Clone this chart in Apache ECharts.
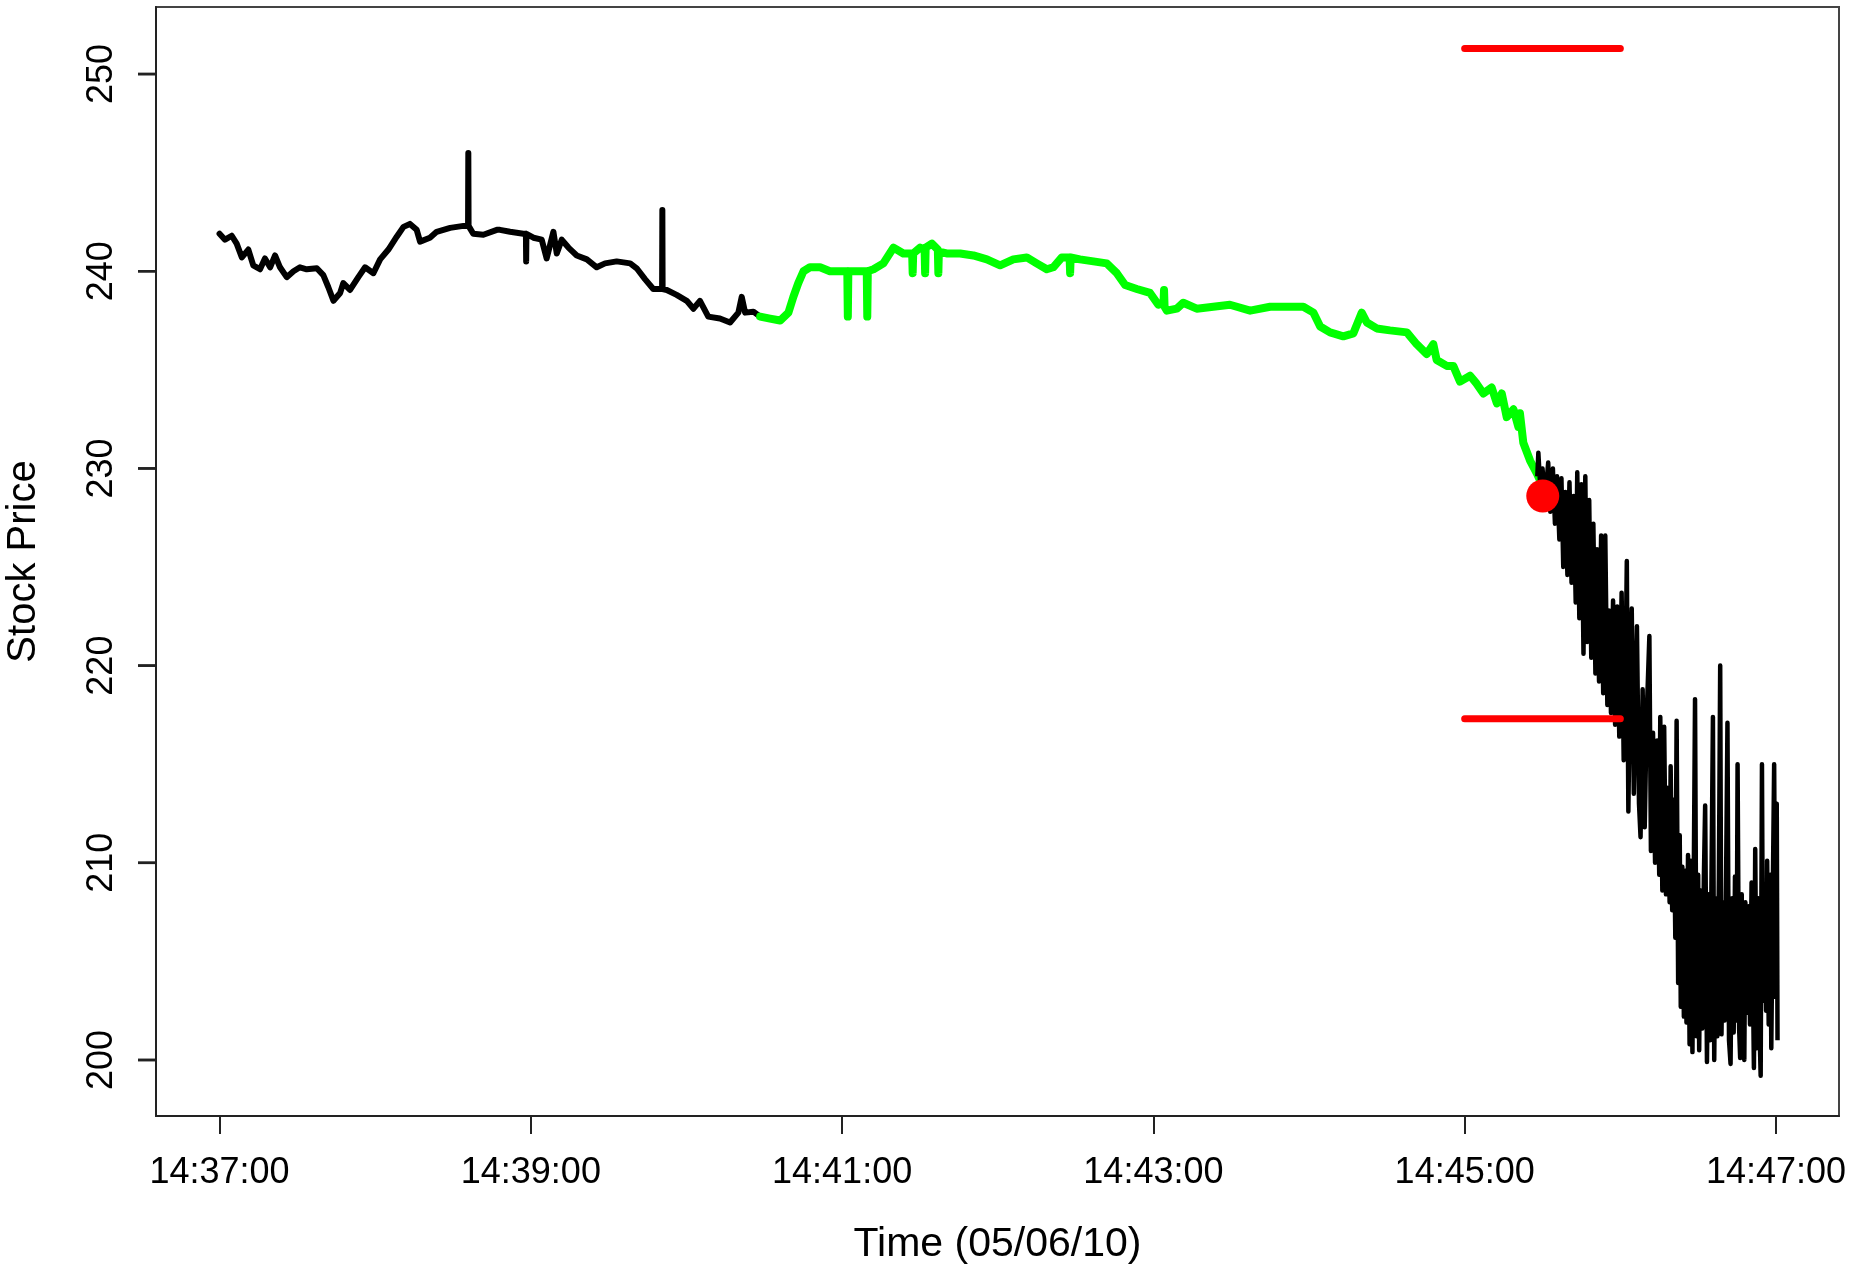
<!DOCTYPE html>
<html>
<head>
<meta charset="utf-8">
<script src="https://cdn.jsdelivr.net/npm/echarts@6/dist/echarts.min.js"></script>
<style>
html,body{margin:0;padding:0;background:#fff;}
#chart{width:1872px;height:1264px;}
</style>
</head>
<body>
<div id="chart"></div>
<script>
// times below are seconds after 14:37:00 on 05/06/10
const xTickValues = [0, 120, 240, 360, 480, 600];
const xTickLabels = ['14:37:00', '14:39:00', '14:41:00', '14:43:00', '14:45:00', '14:47:00'];
const yTickValues = [200, 210, 220, 230, 240, 250];

// first black stretch (before the highlighted window)
const blackHead = [
[0,241.9],[2.1,241.6],[4.7,241.8],[6.6,241.4],[8.6,240.7],[11.1,241.1],[13.0,240.3],[15.6,240.1],
[17.5,240.65],[19.5,240.2],[21.4,240.8],[23.3,240.2],[25.9,239.7],[28.5,240.0],[31.0,240.2],[33.6,240.1],
[37.5,240.15],[40.0,239.8],[41.9,239.2],[43.9,238.5],[46.5,238.9],[47.7,239.4],[50.3,239.05],[53.5,239.7],
[56.1,240.2],[59.3,239.9],[61.9,240.6],[65.1,241.1],[68.3,241.75],[70.9,242.25],[73.4,242.4],[76.0,242.1],
[77.3,241.5],[81.1,241.7],[83.7,242.0],[88.9,242.2],[94.0,242.3],[95.8,242.3],[95.9,246.0],[96.0,242.3],
[97.8,241.9],[101.7,241.85],[106.9,242.1],[108.1,242.1],[112.0,242.0],[117.1,241.9],[118.1,241.9],[118.2,240.5],
[118.3,241.9],[121.0,241.7],[124.2,241.6],[126.1,240.65],[128.7,242.0],[130.0,240.9],[131.9,241.6],[134.5,241.2],
[137.7,240.8],[141.6,240.6],[145.4,240.2],[148.6,240.4],[153.1,240.5],[158.3,240.4],[160.8,240.15],[164.0,239.6],
[167.2,239.1],[170.6,239.1],[170.7,243.1],[170.8,239.1],[172.4,239.05],[176.2,238.8],[180.1,238.5],[182.7,238.1],
[185.2,238.5],[188.4,237.7],[192.9,237.6],[196.8,237.4],[200.0,237.9],[201.3,238.7],[202.6,237.9],[205.8,237.95],
[208.4,237.7]
];

// highlighted (green) stretch
const greenMid = [
[208.4,237.7],[212.2,237.6],[216.1,237.5],[219.3,237.9],[221.2,238.7],[223.1,239.4],[225.1,240.0],[227.6,240.2],
[231.5,240.2],[235.3,240.0],[240.5,240.0],[242.0,240.0],[242.2,237.7],[242.4,240.0],[245.6,240.0],[249.5,240.0],
[249.7,237.7],[249.9,240.0],[252.1,240.1],[255.9,240.4],[259.8,241.2],[263.6,240.9],[267.0,240.9],[267.2,239.9],
[267.4,240.9],[270.1,241.2],[271.8,241.1],[272.0,239.9],[272.2,241.2],[274.6,241.4],[276.9,241.1],[277.1,239.9],
[277.3,241.0],[280.3,240.9],[285.5,240.9],[290.6,240.8],[295.8,240.6],[300.9,240.3],[306.0,240.6],[311.2,240.7],
[315.0,240.4],[318.9,240.1],[321.4,240.2],[324.7,240.7],[327.7,240.7],[327.9,239.9],[328.1,240.7],[331.7,240.6],
[336.9,240.5],[342.0,240.4],[345.9,239.9],[349.1,239.3],[353.6,239.1],[358.7,238.9],[361.9,238.3],[363.9,238.4],
[364.1,239.05],[364.3,238.2],[365.2,238.0],[369.0,238.1],[371.5,238.4],[376.7,238.1],[383.1,238.2],[389.5,238.3],
[397.3,238.0],[405.0,238.2],[411.4,238.2],[417.8,238.2],[421.7,237.9],[424.3,237.2],[428.1,236.9],[433.2,236.7],
[437.1,236.85],[440.3,237.9],[442.3,237.4],[446.1,237.1],[451.2,237.0],[457.7,236.9],[461.5,236.3],[465.4,235.8],
[467.9,236.3],[469.2,235.5],[473.1,235.2],[475.6,235.2],[478.2,234.4],[482.1,234.7],[484.6,234.3],[487.2,233.8],
[490.4,234.1],[492.4,233.3],[494.3,233.8],[496.2,232.6],[498.8,233.0],[500.7,232.1],[501.3,232.8],[502.6,231.3],
[505.2,230.4],[507.8,229.75],[509.7,229.2]
];

// final black stretch (the crash)
const blackTail = [
[508.0,229.6],[508.4,230.8],[509.2,228.9],[510.0,230.0],[511.0,228.4],[512.2,230.3],[513.0,227.8],[514.0,230.0],
[514.8,227.2],[515.6,229.6],[516.5,226.4],[517.3,229.5],[518.0,225.0],[518.8,228.8],[519.6,224.6],[520.4,229.3],
[521.2,224.2],[522.0,228.6],[522.8,223.2],[523.4,229.8],[524.2,222.4],[525.0,229.2],[525.8,220.6],[526.5,229.6],
[527.2,221.2],[528.0,228.4],[528.8,220.4],[529.6,227.2],[530.4,219.6],[531.0,225.9],[531.8,219.2],[532.6,226.6],
[533.4,218.6],[534.2,226.6],[535.0,218.0],[535.6,222.8],[536.4,217.6],[537.2,223.3],[538.0,217.0],[538.8,223.0],
[539.6,216.4],[540.5,223.7],[541.3,215.2],[542.0,219.6],[542.5,225.3],[543.1,212.6],[543.8,220.0],[544.4,222.9],
[545.2,213.5],[546.0,219.4],[546.4,222.0],[547.2,213.0],[547.8,211.3],[548.6,218.8],[549.4,211.8],[550.2,217.6],
[551.2,221.5],[551.8,210.6],[552.6,216.6],[553.4,210.0],[554.2,216.2],[555.0,209.4],[555.4,217.4],[556.2,208.6],
[556.9,216.9],[557.6,208.4],[558.3,213.8],[559.0,208.0],[559.4,214.9],[560.0,207.6],[560.6,213.2],[561.2,206.2],
[561.7,217.2],[562.3,203.9],[562.9,211.4],[563.3,202.7],[563.9,209.8],[564.5,202.2],[565.0,209.6],[565.5,201.9],
[566.1,210.4],[566.7,200.8],[567.2,210.1],[567.8,200.4],[568.3,209.0],[568.8,218.3],[569.4,201.2],[570.0,209.4],
[570.4,200.5],[571.0,208.6],[571.6,201.6],[572.2,209.2],[572.7,212.9],[573.4,199.9],[574.0,208.4],[574.6,201.0],
[575.2,210.0],[575.7,217.4],[576.2,200.0],[576.8,208.2],[577.4,201.2],[578.0,209.2],[578.5,220.0],[579.0,201.3],
[579.6,208.0],[580.2,202.0],[580.8,209.6],[581.3,217.1],[581.9,201.0],[582.5,199.8],[583.1,208.2],[583.7,201.4],
[584.2,209.3],[584.8,202.0],[585.2,215.0],[585.8,201.6],[586.2,200.1],[586.8,208.4],[587.4,200.8],[587.8,200.0],
[588.2,208.0],[588.8,202.4],[589.4,207.8],[590.0,201.8],[590.6,209.0],[591.2,203.0],[591.5,199.6],[592.0,210.7],
[592.6,200.6],[593.2,208.2],[593.7,201.4],[594.1,199.2],[594.6,215.0],[595.0,203.0],[595.6,208.6],[596.2,202.5],
[596.6,210.1],[597.2,201.8],[597.8,209.4],[598.2,200.6],[598.8,208.8],[599.3,215.0],[599.8,203.2],[600.3,213.0],
[600.6,201.0]
];

// red marks
const breakPoint = [[510.1, 228.6]];
const redLevelTop = [[480, 251.3], [540, 251.3]];
const redLevelBottom = [[480, 217.3], [540, 217.3]];

// The x axis counts seconds after 14:36:00 so that its range does not contain 0
const SHIFT = 60;
const sx = arr => arr.map(p => [p[0] + SHIFT, p[1]]);
const xTickPos = xTickValues.map(v => v + SHIFT);
const X_MIN = -24.5 + SHIFT, X_MAX = 624.3 + SHIFT;
const Y_MIN = 197.16, Y_MAX = 253.4;

const FONT = '"Liberation Sans", Arial, Helvetica, sans-serif';

const chart = echarts.init(document.getElementById('chart'), null, {renderer: 'canvas'});
chart.setOption({
  animation: false,
  backgroundColor: '#ffffff',
  grid: {
    left: 156, right: 33, top: 7, bottom: 148,
    containLabel: false,
    outerBoundsMode: 'none',
    show: true, borderColor: '#444444', borderWidth: 2, backgroundColor: 'transparent'
  },
  xAxis: {
    type: 'value',
    position: 'bottom',
    min: X_MIN, max: X_MAX,
    name: 'Time (05/06/10)',
    nameLocation: 'middle',
    nameGap: 108,
    nameTextStyle: {fontSize: 41, color: '#000', fontFamily: FONT},
    axisLine: {show: true, lineStyle: {color: '#222', width: 2}},
    splitLine: {show: false},
    axisTick: {show: true, inside: false, length: 18, lineStyle: {color: '#222', width: 2}, customValues: xTickPos},
    axisLabel: {
      customValues: xTickPos,
      fontSize: 36, color: '#000', fontFamily: FONT, margin: 39,
      formatter: function (v) {
        const i = xTickPos.indexOf(Math.round(v));
        return i >= 0 ? xTickLabels[i] : '';
      }
    }
  },
  yAxis: {
    type: 'value',
    position: 'left',
    min: Y_MIN, max: Y_MAX,
    name: 'Stock Price',
    nameLocation: 'middle',
    nameGap: 112,
    nameRotate: 90,
    nameTextStyle: {fontSize: 40, color: '#000', fontFamily: FONT},
    axisLine: {show: true, lineStyle: {color: '#222', width: 2}},
    splitLine: {show: false},
    axisTick: {show: false},
    axisLabel: {
      customValues: yTickValues,
      rotate: 90,
      fontSize: 36, color: '#000', fontFamily: FONT, margin: 36,
      formatter: function (v) { return String(Math.round(v)); }
    }
  },
  series: [
    {
      type: 'line', data: sx(blackHead), showSymbol: false, symbol: 'none', z: 2,
      lineStyle: {color: '#000', width: 6, join: 'round', cap: 'round'}, silent: true
    },
    {
      type: 'line', data: sx(greenMid), showSymbol: false, symbol: 'none', z: 3,
      lineStyle: {color: '#00ff00', width: 8, join: 'round', cap: 'round'}, silent: true
    },
    {
      type: 'line', data: sx(blackTail), showSymbol: false, symbol: 'none', z: 4,
      lineStyle: {color: '#000', width: 4.5, join: 'round', cap: 'butt'}, silent: true
    },
    {
      type: 'line', data: sx(redLevelTop), showSymbol: false, symbol: 'none', z: 5,
      lineStyle: {color: '#ff0000', width: 7, cap: 'round'}, silent: true
    },
    {
      type: 'line', data: sx(redLevelBottom), showSymbol: false, symbol: 'none', z: 5,
      lineStyle: {color: '#ff0000', width: 7, cap: 'round'}, silent: true
    },
    {
      type: 'scatter', data: sx(breakPoint), symbol: 'circle', symbolSize: 33, z: 10,
      itemStyle: {color: '#ff0000', opacity: 1}, silent: true
    },
    {
      // y-axis tick marks: short dashes on the left edge of the plot box (own layer on top)
      type: 'scatter', data: yTickValues.map(v => [X_MIN, v]),
      symbol: 'rect', symbolSize: [18, 2.5], symbolOffset: [-9, 0],
      clip: false, zlevel: 2, z: 20, silent: true,
      itemStyle: {color: '#222', opacity: 1}
    }
  ]
});

// second route for the same y tick marks, positioned through the grid's scales
const tickShapes = [];
yTickValues.forEach(function (v) {
  const p = chart.convertToPixel({gridIndex: 0}, [X_MIN, v]);
  if (p && isFinite(p[0]) && isFinite(p[1])) {
    tickShapes.push({
      type: 'line', silent: true, zlevel: 3, z: 100,
      shape: {x1: p[0] - 18, y1: p[1], x2: p[0], y2: p[1]},
      style: {stroke: '#222', lineWidth: 2.5}
    });
  }
});
chart.setOption({graphic: {elements: tickShapes}});
</script>
</body>
</html>
